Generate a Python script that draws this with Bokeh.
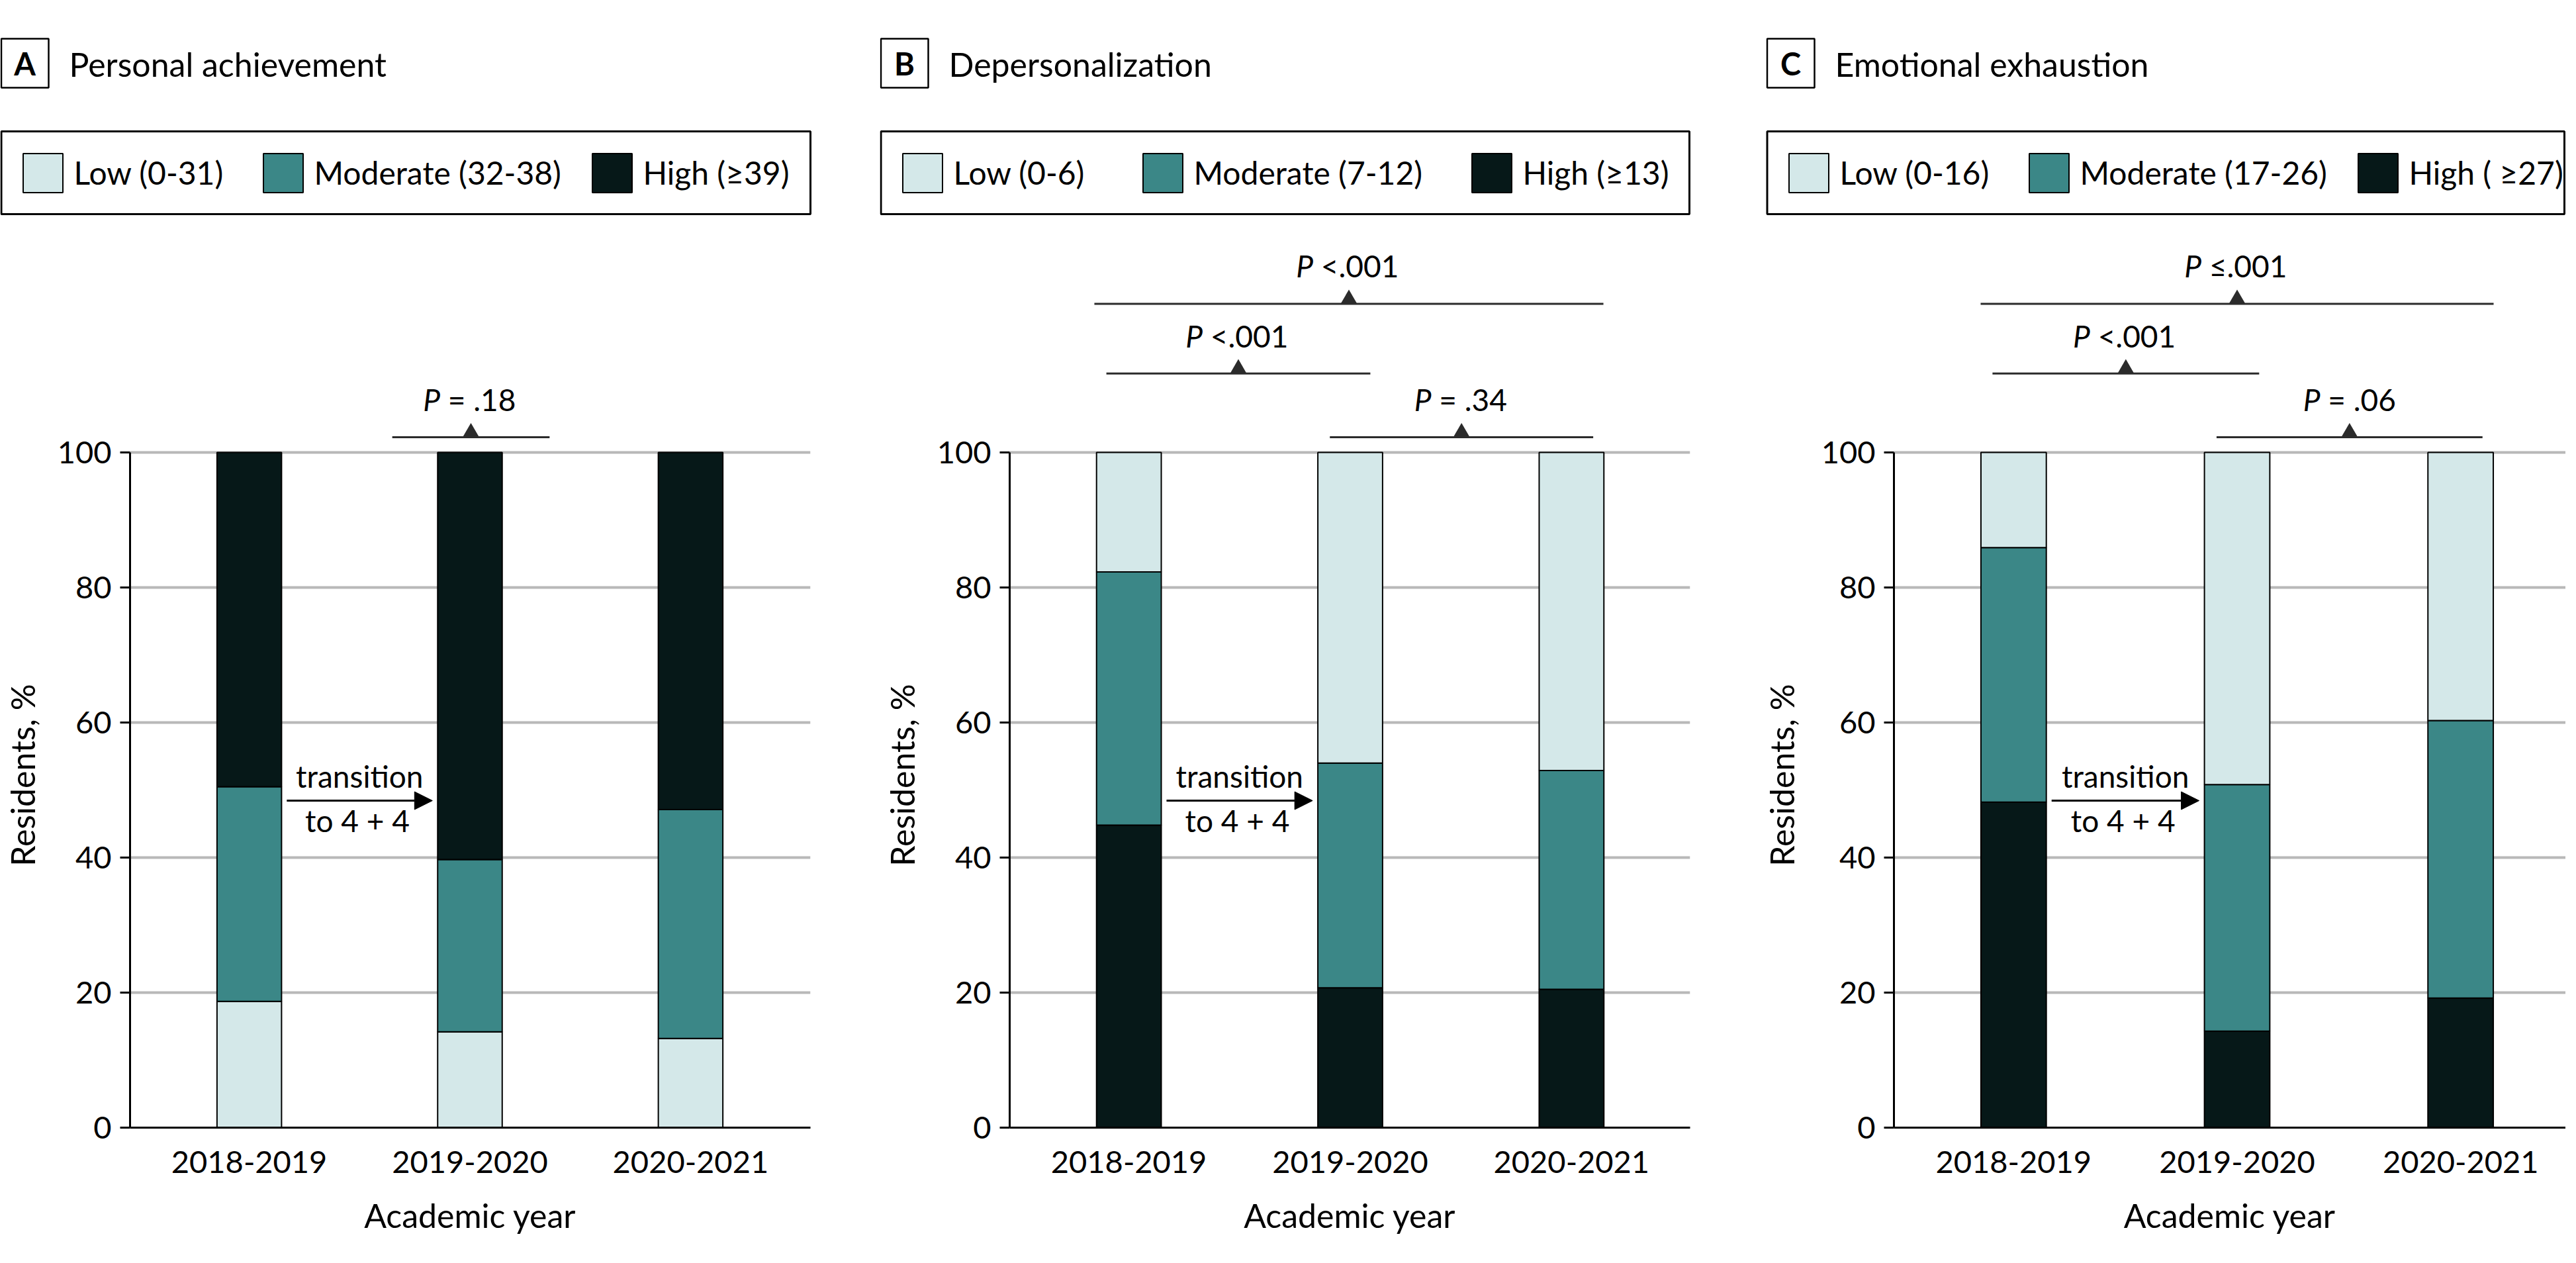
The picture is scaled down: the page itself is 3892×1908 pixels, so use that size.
from bokeh.plotting import figure
from bokeh.layouts import row, column
from bokeh.models import (Range1d, FixedTicker, Legend, LegendItem, Arrow,
                          NormalHead, ColumnDataSource)
from bokeh.core.properties import value
from bokeh.embed import file_html
from bokeh.resources import INLINE

# ---------------- data ----------------
years = ["2018-2019", "2019-2020", "2020-2021"]
levels = ["low", "moderate", "high"]
y_ticks = [0, 20, 40, 60, 80, 100]

pa_low = [18.7, 14.2, 13.2]
pa_moderate = [31.8, 25.5, 33.9]
pa_high = [49.5, 60.3, 52.9]
pa_labels = ["Low (0-31)", "Moderate (32-38)", "High (\u226539)"]

dp_low = [17.7, 46.0, 47.1]
dp_moderate = [37.5, 33.3, 32.4]
dp_high = [44.8, 20.7, 20.5]
dp_labels = ["Low (0-6)", "Moderate (7-12)", "High (\u226513)"]

ee_low = [14.1, 49.2, 39.7]
ee_moderate = [37.7, 36.5, 41.1]
ee_high = [48.2, 14.3, 19.2]
ee_labels = ["Low (0-16)", "Moderate (17-26)", "High ( \u226527)"]

# comparisons: (left, right, level, relation)
pa_tests = [(1.648, 2.361, 0, "= .18")]
dp_tests = [(0.857, 3.146, 2, "<.001"), (0.911, 2.098, 1, "<.001"), (1.908, 3.098, 0, "= .34")]
ee_tests = [(0.855, 3.148, 2, "\u2264.001"), (0.908, 2.100, 1, "<.001"), (1.908, 3.098, 0, "= .06")]

# ---------------- style / layout ----------------
FONT = "Lato"
COLORS = {"low": "#d4e8e9", "moderate": "#3b8787", "high": "#061818"}
PX_Y = 10.2          # px per percent
Y0_REF = 1703        # reference y of 0 %
SPLIT_REF = 636      # reference y where header ends
TOP_REF = 0          # reference y of page top
BOT_REF = 1892       # reference y of page bottom
FRAME_TOP_REF = 638
LEVEL_Y = [102.25, 111.7, 122.0]
SWATCH_OFF = [34, 397, 894]
NBSP = "\u00a0"

panels = [
    dict(letter="A", title="Personal achievement", width=1329, bl=191, br=105, ppu=335.0, off=0,
         box_w=1224, ylab_s=20, labels=pa_labels, order=["low", "moderate", "high"],
         vals={"low": pa_low, "moderate": pa_moderate, "high": pa_high}, tests=pa_tests),
    dict(letter="B", title="Depersonalization", width=1329, bl=191, br=105, ppu=336.0, off=0,
         box_w=1223, ylab_s=20, labels=dp_labels, order=["high", "moderate", "low"],
         vals={"low": dp_low, "moderate": dp_moderate, "high": dp_high}, tests=dp_tests),
    dict(letter="C", title="Emotional exhaustion", width=1218, bl=202, br=0, ppu=338.0, off=10,
         box_w=1206, ylab_s=27, labels=ee_labels, order=["high", "moderate", "low"],
         vals={"low": ee_low, "moderate": ee_moderate, "high": ee_high}, tests=ee_tests),
]


def dy(refy):
    return (Y0_REF - refy) / PX_Y


def no_align(fig):
    try:
        fig.frame_align = False
    except AttributeError:
        pass


def draw_brackets(fig, tests):
    if not tests:
        return
    x0 = [t[0] for t in tests]
    x1 = [t[1] for t in tests]
    ly = [LEVEL_Y[t[2]] for t in tests]
    mid = [(a + b) / 2 for a, b in zip(x0, x1)]
    fig.segment(x0=x0, y0=ly, x1=x1, y1=ly, line_color="#2b2b2b", line_width=3)
    fig.scatter(x=mid, y=[v + 7.2 / PX_Y for v in ly], marker="triangle", size=25,
                fill_color="#2b2b2b", line_color=None)


def make_panel(cfg):
    bl, br, ppu, W = cfg["bl"], cfg["br"], cfg["ppu"], cfg["width"]
    x_start = 1 - 181.0 / ppu
    x_end = x_start + (W - bl - br) / ppu

    def dx(local):
        return x_start + (local - bl) / ppu

    xs = list(range(1, len(years) + 1))
    data = dict(x=xs)
    for lev in levels:
        data[lev] = cfg["vals"][lev]
    src = ColumnDataSource(data)
    colors = [COLORS[k] for k in cfg["order"]]

    # ---------- chart ----------
    ch_h = BOT_REF - SPLIT_REF
    p = figure(width=W, height=ch_h, output_backend="svg", toolbar_location=None,
               x_range=Range1d(x_start, x_end), y_range=Range1d(0, dy(FRAME_TOP_REF)))
    no_align(p)
    p.min_border = 0
    p.min_border_left = bl
    p.min_border_right = br
    p.min_border_top = FRAME_TOP_REF - SPLIT_REF
    p.min_border_bottom = BOT_REF - Y0_REF
    p.outline_line_color = None
    p.background_fill_color = "white"
    p.border_fill_color = "white"

    p.vbar_stack(cfg["order"], x="x", width=0.2925, source=src, color=colors,
                 line_color="black", line_width=2)

    p.xaxis.ticker = FixedTicker(ticks=xs)
    p.xaxis.major_label_overrides = {x: y for x, y in zip(xs, years)}
    p.xaxis.major_tick_out = 0
    p.xaxis.major_tick_in = 0
    p.xaxis.minor_tick_out = 0
    p.xaxis.axis_line_width = 3
    p.xaxis.major_label_text_font = FONT
    p.xaxis.major_label_text_font_size = "47px"
    p.xaxis.major_label_text_color = "black"
    p.xaxis.major_label_standoff = 35
    p.xaxis.axis_label = "Academic year"
    p.xaxis.axis_label_text_font = FONT
    p.xaxis.axis_label_text_font_size = "50px"
    p.xaxis.axis_label_text_font_style = "normal"
    p.xaxis.axis_label_text_color = "black"
    p.xaxis.axis_label_standoff = 31

    p.yaxis.ticker = FixedTicker(ticks=y_ticks)
    p.yaxis.bounds = (0, 100)
    p.yaxis.axis_line_width = 3
    p.yaxis.major_tick_line_width = 3
    p.yaxis.major_tick_out = 15
    p.yaxis.major_tick_in = 0
    p.yaxis.minor_tick_out = 0
    p.yaxis.minor_tick_in = 0
    p.yaxis.major_label_text_font = FONT
    p.yaxis.major_label_text_font_size = "47px"
    p.yaxis.major_label_text_color = "black"
    p.yaxis.major_label_standoff = 13
    p.yaxis.axis_label = "Residents, %"
    p.yaxis.axis_label_text_font = FONT
    p.yaxis.axis_label_text_font_size = "50px"
    p.yaxis.axis_label_text_font_style = "normal"
    p.yaxis.axis_label_text_color = "black"
    p.yaxis.axis_label_standoff = cfg["ylab_s"]

    p.xgrid.visible = False
    p.ygrid.ticker = FixedTicker(ticks=y_ticks)
    p.ygrid.grid_line_color = "#b8b8b8"
    p.ygrid.grid_line_width = 4

    # transition annotation
    p.add_layout(Arrow(end=NormalHead(size=27, fill_color="black", line_color="black", line_width=1),
                       x_start=1.17, y_start=48.43, x_end=1.83, y_end=48.43,
                       line_width=3, line_color="black"))
    p.text(x=[1.5], y=[52.1], text=["transition"], text_font=value(FONT),
           text_font_size=value("46px"), text_color="black", text_align="center",
           text_baseline="middle")
    p.text(x=[1.49], y=[45.5], text=["to 4 + 4"], text_font=value(FONT),
           text_font_size=value("46px"), text_color="black", text_align="center",
           text_baseline="middle")

    # ---------- header ----------
    hd_h = SPLIT_REF - TOP_REF
    h = figure(width=W, height=hd_h, output_backend="svg", toolbar_location=None,
               x_range=Range1d(dx(0), dx(W)), y_range=Range1d(dy(SPLIT_REF), dy(TOP_REF)),
               x_axis_location=None, y_axis_location=None)
    no_align(h)
    h.min_border = 0
    h.min_border_left = 0
    h.min_border_right = 0
    h.min_border_top = 0
    h.min_border_bottom = 0
    h.outline_line_color = None
    h.background_fill_color = "white"
    h.border_fill_color = "white"
    h.xgrid.visible = False
    h.ygrid.visible = False

    off = cfg["off"]
    # panel letter box + title
    h.quad(left=[dx(off + 1.5)], right=[dx(off + 73)], top=[dy(58)], bottom=[dy(132)],
           fill_color="white", line_color="black", line_width=2.5)
    h.text(x=[dx(off + 37)], y=[dy(95)], text=[cfg["letter"]], text_font=value(FONT),
           text_font_size=value("47px"), text_font_style="bold", text_color="black",
           text_align="center", text_baseline="middle")
    h.text(x=[dx(off + 104)], y=[dy(96)], text=[cfg["title"]], text_font=value(FONT),
           text_font_size=value("50px"), text_color="black",
           text_align="left", text_baseline="middle")

    # legend frame
    h.quad(left=[dx(off + 1.5)], right=[dx(off + cfg["box_w"])], top=[dy(198)], bottom=[dy(323)],
           fill_color="white", line_color="black", line_width=3)
    # hidden copy of the stacked bars feeds the legend entries
    hrends = h.vbar_stack(cfg["order"], x="x", width=0.2925, source=src, color=colors,
                          line_color="black", line_width=2)
    for r in hrends:
        r.visible = False
    hmap = dict(zip(cfg["order"], hrends))
    for lev, lab, so in zip(levels, cfg["labels"], SWATCH_OFF):
        lg = Legend(items=[LegendItem(label=lab, renderers=[hmap[lev]])], orientation="horizontal",
                    location=(off + so - 7.5, SPLIT_REF - 297.5),
                    border_line_color=None, background_fill_alpha=0.0,
                    inactive_fill_alpha=0.0,
                    padding=0, margin=0, spacing=0, glyph_width=75, glyph_height=74,
                    label_standoff=10, label_text_font=FONT, label_text_font_size="48px",
                    label_text_color="black", label_text_baseline="middle")
        h.add_layout(lg)

    # significance brackets: lowest level sits inside the chart frame, upper ones in the header
    tests = cfg["tests"]
    split_val = dy(FRAME_TOP_REF)
    draw_brackets(p, [t for t in tests if LEVEL_Y[t[2]] < split_val])
    draw_brackets(h, [t for t in tests if LEVEL_Y[t[2]] >= split_val])
    for t in tests:
        m = (t[0] + t[1]) / 2
        yv = LEVEL_Y[t[2]]
        d = 44 if "=" in t[3] else 54
        h.text(x=[m], y=[yv + 5.6], text=["P"], text_font=value(FONT),
               text_font_size=value("46px"), text_font_style="italic", text_color="black",
               text_align="right", text_baseline="middle", x_offset=-d)
        h.text(x=[m], y=[yv + 5.6], text=[NBSP + t[3]], text_font=value(FONT),
               text_font_size=value("46px"), text_color="black",
               text_align="left", text_baseline="middle", x_offset=-d)

    return column(h, p, spacing=0)


cols = [make_panel(c) for c in panels]
layout = row(*cols, spacing=0)

open("out.html", "w").write(file_html(layout, INLINE))
